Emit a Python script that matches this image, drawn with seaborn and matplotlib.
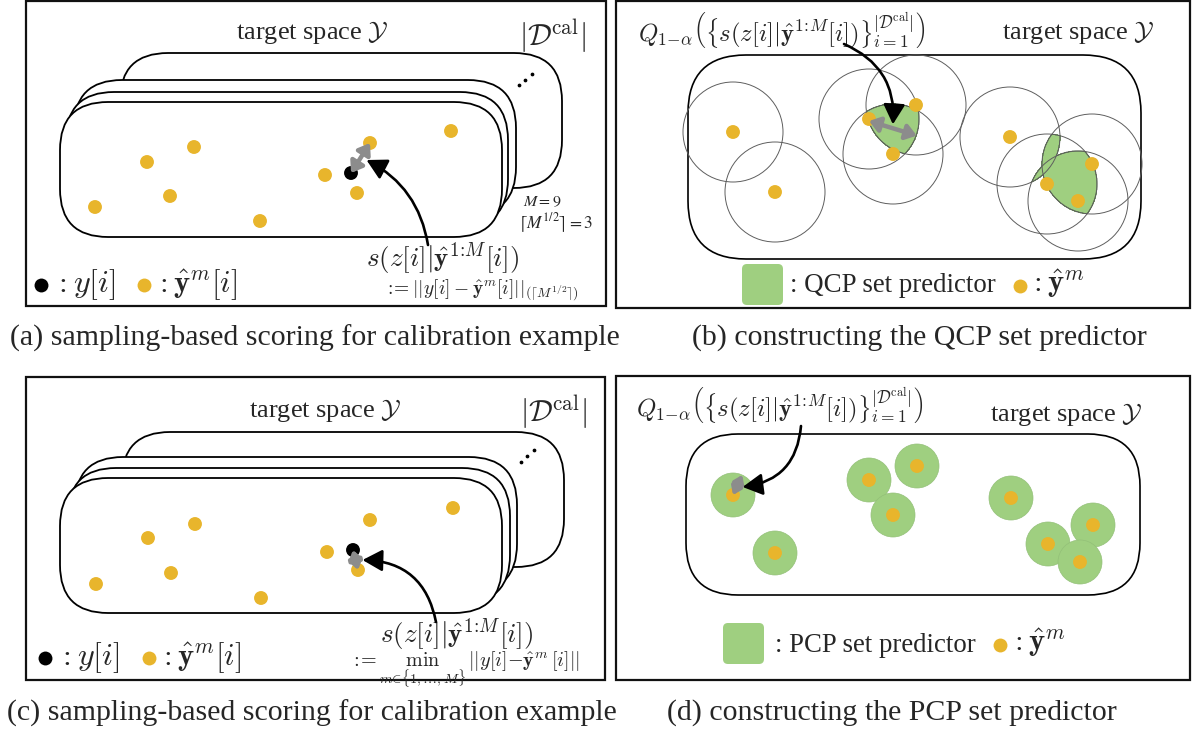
import numpy as np
import pandas as pd
import matplotlib
matplotlib.use("Agg")
import matplotlib.pyplot as plt
from matplotlib.patches import FancyBboxPatch, Circle, Rectangle, FancyArrowPatch
import seaborn as sns

sns.set_theme(style="white")
plt.rcParams["font.family"] = ["Liberation Serif", "DejaVu Serif"]
plt.rcParams["mathtext.fontset"] = "cm"

YELLOW = "#E8B52C"
GREEN = "#9FCF80"
GREY = "#8C8C8C"

# ---- data ---------------------------------------------------------------
# (a) calibration example: M = 9 samples and the true target
a_samples_x = [95, 147, 194, 170, 260, 325, 370, 357, 451]
a_samples_y = [207, 162, 147, 196, 221, 175, 143, 193, 131]
a_truth_x, a_truth_y = 351, 173
# (c) calibration example for the PCP score
c_samples_x = [96, 148, 195, 171, 261, 327, 370, 358, 453]
c_samples_y = [584, 538, 524, 573, 598, 552, 520, 570, 508]
c_truth_x, c_truth_y = 353, 550
# (b) test-time samples and QCP radius
b_samples_x = [733, 775, 869, 916, 893, 1010, 1092, 1047, 1078]
b_samples_y = [132, 192, 119, 105, 154, 137, 164, 184, 201]
qcp_radius = 50
qcp_K = 3
# (d) test-time samples and PCP radius
d_samples_x = [733, 775, 869, 917, 893, 1011, 1093, 1048, 1080]
d_samples_y = [495, 553, 480, 466, 515, 498, 525, 544, 562]
pcp_radius = 22

# stacked calibration copies (back to front): right edge and top edge
a_stack_right = [562, 516, 508, 502]
a_stack_top = [53, 80, 92, 102]
c_stack_right = [564, 517, 510, 502]
c_stack_top = [432, 457, 468, 478]
stack_w, stack_h = 442, 135

captions = ["(a) sampling-based scoring for calibration example",
            "(b) constructing the QCP set predictor",
            "(c) sampling-based scoring for calibration example",
            "(d) constructing the PCP set predictor"]

# ---- figure -------------------------------------------------------------
fig = plt.figure(figsize=(11.92, 7.33), dpi=100)
ax = fig.add_axes([0, 0, 1, 1])


def frame(x0, y0, x1, y1):
    ax.add_patch(Rectangle((x0, y0), x1 - x0, y1 - y0, fill=False,
                           ec="#111111", lw=1.6, zorder=1))


def rounded(x, y, w, h, r, lw=1.3, fc="white", z=1.5):
    ax.add_patch(FancyBboxPatch((x, y), w, h,
                                boxstyle=f"round,pad=0,rounding_size={r}",
                                fc=fc, ec="black", lw=lw, zorder=z))


def arrow(p, q, rad, color, lw, style, ms, z=7):
    ax.add_patch(FancyArrowPatch(p, q, arrowstyle=style, mutation_scale=ms,
                                 connectionstyle=f"arc3,rad={rad}",
                                 color=color, lw=lw, shrinkA=0, shrinkB=0,
                                 zorder=z))


frame(26, 1, 606, 306)
frame(616, 1, 1190, 308)
frame(26, 377, 605, 680)
frame(616, 376, 1190, 680)

# stacks of calibration examples
for right, top in zip(a_stack_right, a_stack_top):
    rounded(right - stack_w, top, stack_w, stack_h, 48)
for right, top in zip(c_stack_right, c_stack_top):
    rounded(right - stack_w, top, stack_w, stack_h, 48)
for xs, ys in [([519, 525, 532], [85, 80, 74]), ([521, 527, 534], [462, 456, 450])]:
    ax.plot(xs, ys, "o", color="black", ms=1.7, zorder=2)

# target spaces of (b) and (d)
rounded(688, 55, 453, 204, 58, lw=1.2)
rounded(686, 434, 454, 161, 52, lw=1.2)

# QCP region: points covered by at least K of the balls
gx = np.linspace(660, 1160, 900)
gy = np.linspace(30, 280, 450)
GX, GY = np.meshgrid(gx, gy)
cover = np.zeros_like(GX)
for x, y in zip(b_samples_x, b_samples_y):
    cover += ((GX - x) ** 2 + (GY - y) ** 2 <= qcp_radius ** 2)
ax.contourf(GX, GY, cover, levels=[qcp_K - 0.5, 100], colors=[GREEN], zorder=2)
ax.contour(GX, GY, cover, levels=[qcp_K - 0.5], colors=["#55774a"],
           linewidths=0.6, zorder=2.2)
for x, y in zip(b_samples_x, b_samples_y):
    ax.add_patch(Circle((x, y), qcp_radius, fill=False, ec="#5e5e5e",
                        lw=0.7, zorder=3))

# PCP region: union of small balls
for x, y in zip(d_samples_x, d_samples_y):
    ax.add_patch(Circle((x, y), pcp_radius, fc=GREEN, ec="#93c078",
                        lw=0.5, zorder=2))

# sample points
pts = pd.DataFrame({
    "x": a_samples_x + c_samples_x + b_samples_x + d_samples_x + [a_truth_x, c_truth_x],
    "y": a_samples_y + c_samples_y + b_samples_y + d_samples_y + [a_truth_y, c_truth_y],
    "kind": ["sample"] * 36 + ["truth"] * 2,
})
sns.scatterplot(data=pts, x="x", y="y", hue="kind",
                palette={"sample": YELLOW, "truth": "black"},
                s=100, linewidth=0, legend=False, ax=ax, zorder=5)

head2 = "<|-|>,head_length=0.45,head_width=0.32"
head1 = "-|>,head_length=0.55,head_width=0.3"

# (a) distance to the ceil(sqrt(M))-th nearest sample
a_d = np.hypot(np.array(a_samples_x) - a_truth_x, np.array(a_samples_y) - a_truth_y)
k_idx = np.argsort(a_d)[qcp_K - 1]
pa = (a_truth_x, a_truth_y)
qa = (a_samples_x[k_idx], a_samples_y[k_idx])
arrow(pa, qa, 0, GREY, 3.2, head2, 14)
mid_a = ((pa[0] + qa[0]) / 2 + 6, (pa[1] + qa[1]) / 2 + 2)
arrow((428, 245), mid_a, 0.25, "black", 1.9, head1, 22)

# (c) distance to the nearest sample
c_d = np.hypot(np.array(c_samples_x) - c_truth_x, np.array(c_samples_y) - c_truth_y)
n_idx = int(np.argmin(c_d))
pc = (c_truth_x, c_truth_y)
qc = (c_samples_x[n_idx], c_samples_y[n_idx])
arrow(pc, qc, 0, GREY, 3.2, head2, 12)
mid_c = ((pc[0] + qc[0]) / 2 + 7, (pc[1] + qc[1]) / 2)
arrow((436, 622), mid_c, 0.4, "black", 1.9, head1, 22)

# (b) radius of the QCP balls
ub = np.array([0.956, 0.292])
pb = np.array([b_samples_x[2], b_samples_y[2] + 2])
qb = pb + qcp_radius * ub
arrow(tuple(pb), tuple(qb), 0, GREY, 3.2, head2, 14)
mid_b = tuple((pb + qb) / 2 + np.array([0, -4]))
arrow((844, 44), mid_b, -0.35, "black", 1.9, head1, 22)

# (d) radius of the PCP balls
ud = np.array([0.42, -0.91])
pd_ = np.array([d_samples_x[0], d_samples_y[0]])
qd = pd_ + pcp_radius * ud
arrow(tuple(pd_), tuple(qd), 0, GREY, 3.0, head2, 10)
mid_d = tuple((pd_ + qd) / 2 + np.array([5, 2]))
arrow((801, 426), mid_d, -0.4, "black", 1.9, head1, 22)

# ---- text ---------------------------------------------------------------
score = r"$s(z[i]|\hat{\mathbf{y}}^{1\!:\!M}[i])$"
quant = (r"$Q_{1\!-\!\alpha}\left(\left\{s(z[i]|\hat{\mathbf{y}}^{1\!:\!M}[i])\right\}"
         r"_{i=1}^{|\mathcal{D}^{\mathrm{cal}}|}\right)$")
space = r"target space $\mathcal{Y}$"
dcal = r"$|\mathcal{D}^{\mathrm{cal}}|$"

ax.text(312, 32, space, fontsize=19, ha="center", va="center")
ax.text(325, 410, space, fontsize=19, ha="center", va="center")
ax.text(1078, 32, space, fontsize=19, ha="center", va="center")
ax.text(1066, 415, space, fontsize=19, ha="center", va="center")
ax.text(552, 37, dcal, fontsize=21.5, ha="center", va="center")
ax.text(553, 413, dcal, fontsize=21.5, ha="center", va="center")

ax.text(443, 259, score, fontsize=19.5, ha="center", va="center")
ax.text(481, 290, r"$:\!\!=||y[i]-\hat{\mathbf{y}}^m[i]||_{(\lceil M^{1/2}\rceil)}$",
        fontsize=14, ha="center", va="center")
ax.text(542, 206, r"$M = 9$", fontsize=11.5, ha="center", va="baseline",
        math_fontfamily="stix")
ax.text(556, 229, r"$\lceil M^{1/2}\rceil = 3$", fontsize=12.5, ha="center",
        va="baseline", math_fontfamily="stix")

ax.text(457, 635, score, fontsize=19.5, ha="center", va="center")
ax.text(350, 667, r"$:\!\!=\min_{m\in\{1,\ldots,M\}}\, ||y[i]-\hat{\mathbf{y}}^m[i]||$",
        fontsize=14.5, ha="left", va="baseline")

ax.text(782, 30, quant, fontsize=17.8, ha="center", va="center")
ax.text(780, 405, quant, fontsize=17.8, ha="center", va="center")

# legends
ax.scatter([41, 45], [285, 658], s=100, color="black", lw=0, zorder=5)
ax.scatter([144, 149, 1020, 1000], [285, 658, 286, 645], s=100, color=YELLOW, lw=0, zorder=5)
for x, y in [(53, 285), (57, 658)]:
    ax.text(x, y, r"$: y[i]$", fontsize=23, ha="left", va="center")
for x, y in [(154, 285), (158, 658)]:
    ax.text(x, y, r"$: \hat{\mathbf{y}}^m[i]$", fontsize=22, ha="left", va="center")
for x, y in [(1028, 284), (1009, 643)]:
    ax.text(x, y, r"$: \hat{\mathbf{y}}^m$", fontsize=22, ha="left", va="center")
ax.add_patch(FancyBboxPatch((742, 264), 41, 41, boxstyle="round,pad=0,rounding_size=5",
                            fc=GREEN, ec="none", zorder=2))
ax.add_patch(FancyBboxPatch((723, 623), 41, 41, boxstyle="round,pad=0,rounding_size=5",
                            fc=GREEN, ec="none", zorder=2))
ax.text(790, 285, ": QCP set predictor", fontsize=19.4, ha="left", va="center")
ax.text(775, 645, ": PCP set predictor", fontsize=19.3, ha="left", va="center")

# captions
ax.text(315, 338, captions[0], fontsize=21.5, ha="center", va="center")
ax.text(919, 338, captions[1], fontsize=21.5, ha="center", va="center")
ax.text(312, 713, captions[2], fontsize=21.5, ha="center", va="center")
ax.text(892, 713, captions[3], fontsize=21.5, ha="center", va="center")

ax.set_xlim(0, 1192)
ax.set_ylim(733, 0)
ax.axis("off")
fig.savefig("out.png", dpi=100, facecolor="white")
